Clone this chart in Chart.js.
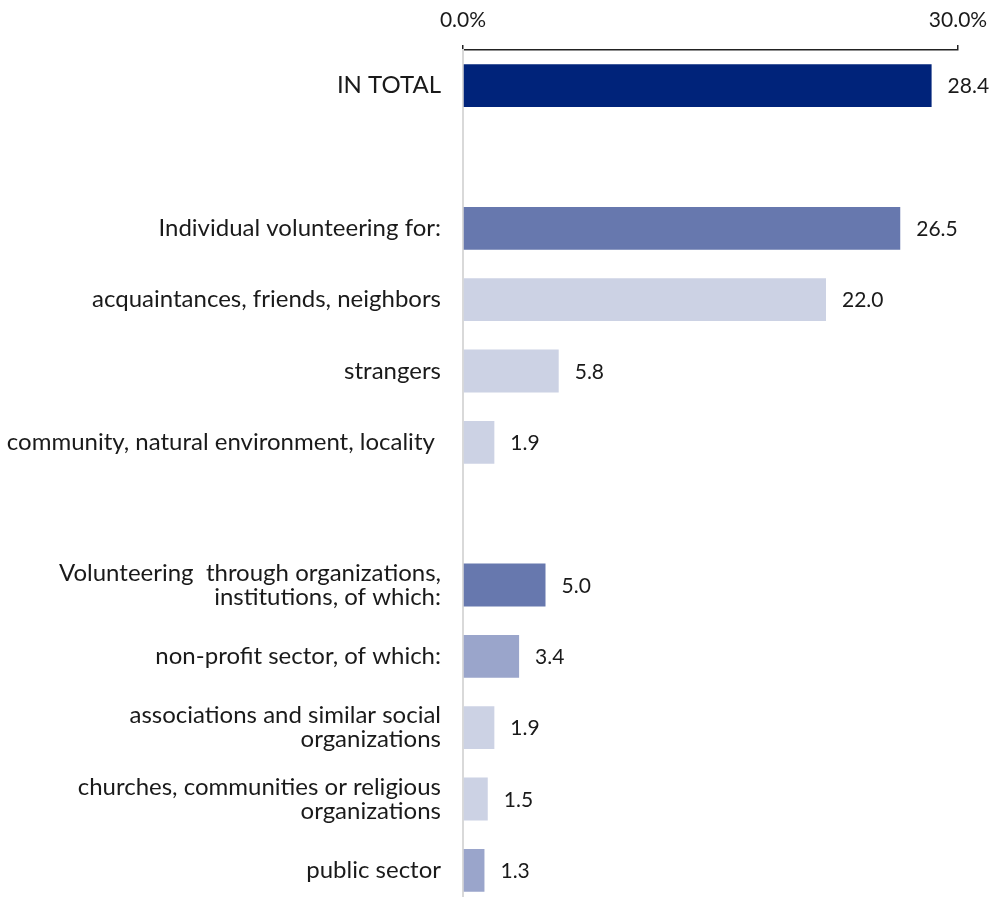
<!DOCTYPE html>
<html>
<head>
<meta charset="utf-8">
<script src="https://cdn.jsdelivr.net/npm/chart.js@4.4.1/dist/chart.umd.min.js"></script>
<style>
  html, body { margin: 0; padding: 0; background: #fff; overflow: hidden; }
  #chart { display: block; }
</style>
</head>
<body>
<canvas id="chart" width="991" height="906"></canvas>
<script>
// Share of volunteers by type of volunteering (%), blank rows separate the groups
const categories = [
  'IN TOTAL',
  '',
  'Individual volunteering for:',
  'acquaintances, friends, neighbors',
  'strangers',
  'community, natural environment, locality ',
  '',
  ['Volunteering  through organizations,', 'institutions, of which:'],
  'non-profit sector, of which:',
  ['associations and similar social', 'organizations'],
  ['churches, communities or religious', 'organizations'],
  'public sector'
];
const shares = [28.4, null, 26.5, 22.0, 5.8, 1.9, null, 5.0, 3.4, 1.9, 1.5, 1.3];
const barColors = [
  '#00237A', null,
  '#6778AE', '#CCD2E4', '#CCD2E4', '#CCD2E4', null,
  '#6778AE', '#9AA5CB', '#CCD2E4', '#CCD2E4', '#9AA5CB'
];
const axisMin = 0;
const axisMax = 30;
const axisTicks = [0, 30];

const FONT = 'Lato';
const TEXT = '#1a1a1a';

// Writes each bar's value just past its end
const valueLabels = {
  id: 'valueLabels',
  afterDatasetsDraw(chart) {
    const ctx = chart.ctx;
    const meta = chart.getDatasetMeta(0);
    ctx.save();
    ctx.font = '21px ' + FONT;
    ctx.fillStyle = TEXT;
    ctx.textAlign = 'left';
    ctx.textBaseline = 'middle';
    meta.data.forEach((bar, i) => {
      const v = shares[i];
      if (v === null || v === undefined) return;
      ctx.fillText(v.toFixed(1), bar.x + 16, bar.y + 1);
    });
    ctx.restore();
  }
};

new Chart(document.getElementById('chart'), {
  type: 'bar',
  data: {
    labels: categories,
    datasets: [{
      data: shares,
      backgroundColor: barColors,
      borderWidth: 0,
      barPercentage: 0.6,
      categoryPercentage: 1.0
    }]
  },
  options: {
    indexAxis: 'y',
    responsive: false,
    animation: false,
    layout: { autoPadding: false, padding: { left: 0, right: 33, top: 0, bottom: 0 } },
    plugins: {
      legend: { display: false },
      tooltip: { enabled: false }
    },
    scales: {
      x: {
        position: 'top',
        min: axisMin,
        max: axisMax,
        afterBuildTicks(scale) {
          scale.ticks = axisTicks.map(v => ({ value: v }));
        },
        afterFit(scale) {
          scale.height = 50;
          scale.paddingLeft = 0;
          scale.paddingRight = 0;
        },
        grid: {
          drawOnChartArea: false,
          drawTicks: true,
          tickLength: 5,
          color: '#222',
          lineWidth: 1.5
        },
        border: { display: true, color: '#222', width: 1.5 },
        ticks: {
          padding: 12,
          color: TEXT,
          font: { family: FONT, size: 21 },
          maxRotation: 0,
          callback: v => Number(v).toFixed(1) + '%'
        }
      },
      y: {
        afterFit(scale) {
          scale.width = 463;
          scale.paddingTop = 0;
          scale.paddingBottom = 0;
        },
        grid: { display: false, drawTicks: false },
        border: { display: true, color: '#d9d9d9', width: 2 },
        ticks: {
          padding: 22,
          color: TEXT,
          font: { family: FONT, size: 24, lineHeight: 1.0 },
          autoSkip: false
        }
      }
    }
  },
  plugins: [valueLabels]
});
</script>
</body>
</html>
